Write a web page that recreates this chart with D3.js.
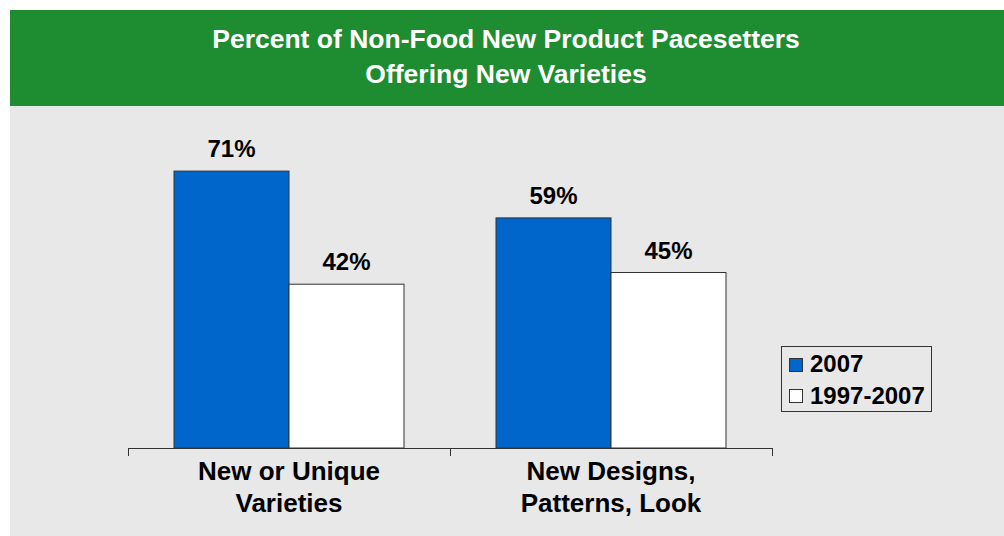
<!DOCTYPE html>
<html><head><meta charset="utf-8">
<script src="https://cdn.jsdelivr.net/npm/d3@7/dist/d3.min.js"></script>
<style>body{margin:0;background:#fff}svg{display:block}text{font-family:"Liberation Sans",Arial,sans-serif;font-weight:bold}</style>
</head><body>
<script>
const titleLines = ["Percent of Non-Food New Product Pacesetters", "Offering New Varieties"];
const categories = [["New or Unique", "Varieties"], ["New Designs,", "Patterns, Look"]];
const seriesNames = ["2007", "1997-2007"];
const values2007 = [71, 59];
const values1997_2007 = [42, 45];
const seriesColors = ["#0066CC", "#FFFFFF"];

const W = 1004, H = 536;
const svg = d3.select("body").append("svg").attr("width", W).attr("height", H);

svg.append("rect").attr("x", 10).attr("y", 106).attr("width", W - 10).attr("height", H - 106).attr("fill", "#E8E8E8");
svg.append("rect").attr("x", 10).attr("y", 10).attr("width", W - 10).attr("height", 96).attr("fill", "#1E8C30");

svg.selectAll("text.title").data(titleLines).join("text").attr("class", "title")
  .attr("x", 506).attr("y", (d, i) => 48 + i * 35).attr("text-anchor", "middle")
  .attr("fill", "#fff").attr("font-size", 26.5).text(d => d);

const x0 = d3.scaleBand().domain(d3.range(categories.length)).range([128, 772]).paddingInner(0).paddingOuter(0);
const x1 = d3.scaleBand().domain(d3.range(seriesNames.length)).range([46, x0.bandwidth() - 46]);
const y = d3.scaleLinear().domain([0, 100]).range([448, 58]);

const data = categories.map((c, i) => [values2007[i], values1997_2007[i]]);

const g = svg.selectAll("g.grp").data(data).join("g").attr("class", "grp")
  .attr("transform", (d, i) => `translate(${x0(i)},0)`);
g.selectAll("rect").data(d => d).join("rect")
  .attr("x", (d, j) => x1(j)).attr("y", d => y(d))
  .attr("width", x1.bandwidth()).attr("height", d => y(0) - y(d))
  .attr("fill", (d, j) => seriesColors[j]).attr("stroke", "#333").attr("stroke-width", 1);
g.selectAll("text.val").data(d => d).join("text").attr("class", "val")
  .attr("x", (d, j) => x1(j) + x1.bandwidth() / 2).attr("y", d => y(d) - 14)
  .attr("text-anchor", "middle").attr("font-size", 24).attr("fill", "#000").text(d => d + "%");

// axis
const axis = svg.append("g");
axis.append("line").attr("x1", 128).attr("x2", 772).attr("y1", 448.5).attr("y2", 448.5).attr("stroke", "#333");
const tickPos = d3.range(categories.length + 1).map(i => i < categories.length ? x0(i) : x0(i - 1) + x0.bandwidth());
axis.selectAll("line.tk").data(tickPos).join("line").attr("class", "tk")
  .attr("x1", d => Math.round(d) + 0.5).attr("x2", d => Math.round(d) + 0.5).attr("y1", 448).attr("y2", 456).attr("stroke", "#333");
categories.forEach((lines, i) => {
  axis.selectAll(null).data(lines).join("text")
    .attr("x", x0(i) + x0.bandwidth() / 2).attr("y", (d, k) => 480 + k * 32)
    .attr("text-anchor", "middle").attr("font-size", 26).attr("fill", "#000").text(d => d);
});

// legend
const lg = svg.append("g");
lg.append("rect").attr("x", 781.5).attr("y", 346.5).attr("width", 150).attr("height", 65).attr("fill", "none").attr("stroke", "#333");
seriesNames.forEach((s, i) => {
  lg.append("rect").attr("x", 789.5).attr("y", 358.5 + i * 31).attr("width", 13).attr("height", 13)
    .attr("fill", seriesColors[i]).attr("stroke", "#333");
  lg.append("text").attr("x", 810).attr("y", 372 + i * 32).attr("font-size", 24).attr("fill", "#000").text(s);
});
</script>
</body></html>
